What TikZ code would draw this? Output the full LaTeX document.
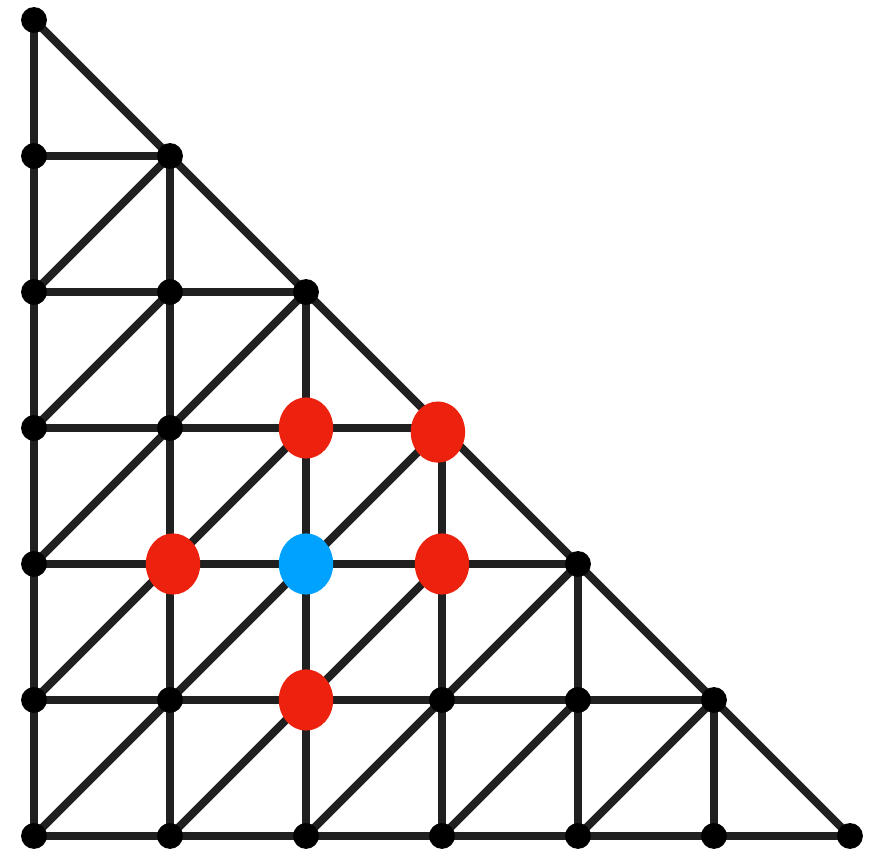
\documentclass[tikz,border=0pt]{standalone}
\usetikzlibrary{shapes.geometric}
\definecolor{edgegray}{HTML}{202020}
\definecolor{hotred}{HTML}{EC220E}
\definecolor{centerblue}{HTML}{00A2FF}
\begin{document}
\begin{tikzpicture}[x=1cm,y=1cm,
  vtx/.style={circle,fill=black,inner sep=0pt,minimum size=0.19cm},
  nbr/.style={ellipse,fill=hotred,inner sep=0pt,minimum width=0.4cm,minimum height=0.45cm},
  ctr/.style={ellipse,fill=centerblue,inner sep=0pt,minimum width=0.4cm,minimum height=0.45cm},
  edge/.style={draw=edgegray,line width=1.65pt}]
  \def\N{6}
  \useasboundingbox (-0.25,-0.132) rectangle (6.287,6.147);

  % Grid points
  \foreach \i in {0,...,\N} {
    \pgfmathtruncatemacro{\jmax}{\N-\i}
    \foreach \j in {0,...,\jmax} {
      \coordinate (v-\i-\j) at (\i,\j);
    }
  }

  % Horizontal and vertical edges
  \foreach \i in {0,...,5} {
    \pgfmathtruncatemacro{\jmax}{5-\i}
    \foreach \j in {0,...,\jmax} {
      \pgfmathtruncatemacro{\ii}{\i+1}
      \pgfmathtruncatemacro{\jj}{\j+1}
      \draw[edge] (v-\i-\j) -- (v-\ii-\j);
      \draw[edge] (v-\i-\j) -- (v-\i-\jj);
    }
  }

  % Diagonal edges
  \foreach \i in {0,...,4} {
    \pgfmathtruncatemacro{\jmax}{4-\i}
    \foreach \j in {0,...,\jmax} {
      \pgfmathtruncatemacro{\ii}{\i+1}
      \pgfmathtruncatemacro{\jj}{\j+1}
      \draw[edge] (v-\i-\j) -- (v-\ii-\jj);
    }
  }

  % Hypotenuse
  \draw[edge] (v-0-6) -- (v-6-0);

  % Vertices
  \foreach \i in {0,...,\N} {
    \pgfmathtruncatemacro{\jmax}{\N-\i}
    \foreach \j in {0,...,\jmax} {
      \node[vtx] (p-\i-\j) at (v-\i-\j) {};
    }
  }

  % Neighbourhood of the centre
  \node[nbr] (n-2-3) at (v-2-3) {};
  \node[nbr] (n-3-3) at ([shift={(-0.03,-0.03)}]v-3-3) {};
  \node[nbr] (n-1-2) at ([xshift=0.022cm]v-1-2) {};
  \node[nbr] (n-3-2) at (v-3-2) {};
  \node[nbr] (n-2-1) at (v-2-1) {};
  \node[ctr] (c-2-2) at (v-2-2) {};
\end{tikzpicture}
\end{document}
